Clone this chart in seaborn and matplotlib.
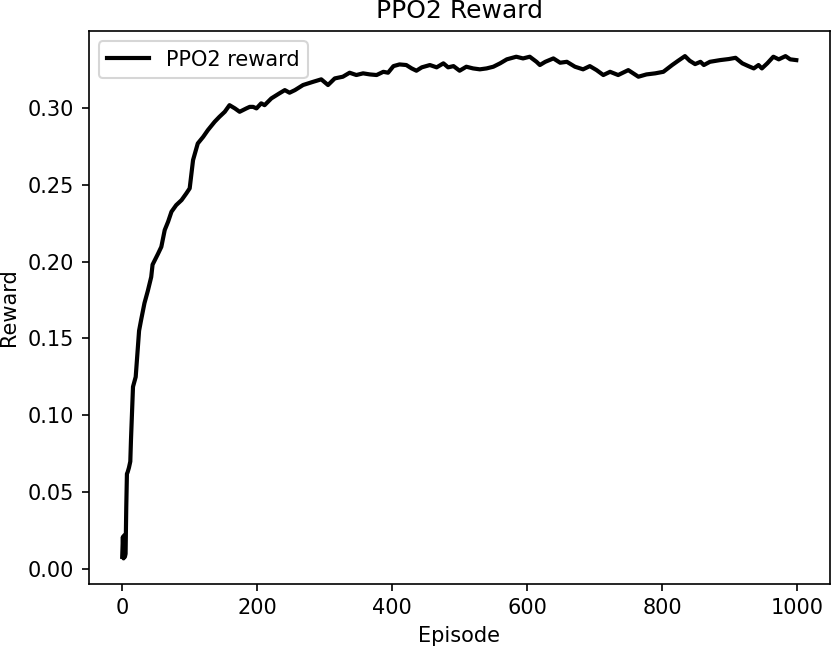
import matplotlib
matplotlib.use('Agg')
import matplotlib.pyplot as plt
import pandas as pd
import seaborn as sns


# values (episode, smoothed reward)
episodes = [
    0, 1, 2, 3, 4, 5, 6, 7, 8, 10, 12, 13, 16, 20, 25, 28, 33, 38, 43, 45,
    53, 58, 63, 68, 73, 80, 88, 95, 100, 105, 112, 120, 127, 137, 144, 152,
    159, 167, 174, 184, 189, 194, 199, 206, 211, 221, 233, 241, 248, 256,
    268, 283, 295, 305, 315, 327, 337, 347, 357, 367, 377, 387, 394, 402,
    411, 421, 429, 436, 444, 456, 466, 476, 483, 491, 500, 510, 520, 530,
    540, 550, 560, 570, 584, 594, 604, 614, 619, 627, 639, 649, 659, 671,
    683, 693, 703, 713, 723, 735, 750, 765, 777, 790, 802, 815, 824, 834,
    841, 849, 857, 862, 871, 886, 899, 909, 919, 928, 936, 943, 948, 956,
    965, 973, 983, 990, 999,
]
rewards = [
    0.008, 0.021, 0.007, 0.022, 0.008, 0.010, 0.040, 0.062, 0.063, 0.066,
    0.070, 0.084, 0.1186, 0.125, 0.155, 0.162, 0.173, 0.181, 0.190, 0.198,
    0.205, 0.2096, 0.2205, 0.2259, 0.2324, 0.2367, 0.240, 0.2443, 0.2476,
    0.266, 0.2768, 0.2811, 0.2855, 0.2909, 0.2941, 0.2974, 0.3017, 0.2996,
    0.2974, 0.2996, 0.3006, 0.3006, 0.2996, 0.3029, 0.3017, 0.3061, 0.3094,
    0.3115, 0.3098, 0.3115, 0.3148, 0.3169, 0.3185, 0.3148, 0.3191, 0.3202,
    0.3228, 0.3213, 0.3224, 0.3217, 0.3213, 0.3234, 0.3228, 0.3271, 0.3282,
    0.3278, 0.3256, 0.3241, 0.3263, 0.3278, 0.3263, 0.3289, 0.3263, 0.3271,
    0.3241, 0.3267, 0.3256, 0.3250, 0.3256, 0.3267, 0.3289, 0.3315, 0.3332,
    0.3321, 0.3332, 0.3299, 0.3278, 0.3299, 0.3321, 0.3293, 0.3299, 0.3267,
    0.3250, 0.3271, 0.3245, 0.3213, 0.3234, 0.3213, 0.3245, 0.3202, 0.3217,
    0.3224, 0.3234, 0.3278, 0.3306, 0.3336, 0.3306, 0.3284, 0.3299, 0.3278,
    0.3299, 0.3310, 0.3317, 0.3325, 0.3289, 0.3271, 0.3256, 0.3278, 0.3256,
    0.3289, 0.3332, 0.3315, 0.3336, 0.3315, 0.3310,
]


def main():
    df = pd.DataFrame({'Episode': episodes, 'Reward': rewards})

    fig = plt.figure(figsize=(831 / 150, 647 / 150), dpi=150)
    ax = fig.add_axes([88.5 / 831, 63.5 / 647, 741.5 / 831, 552.5 / 647])
    sns.lineplot(data=df, x='Episode', y='Reward', color='black',
                 linewidth=2, label='PPO2 reward', ax=ax)
    ax.set_title('PPO2 Reward')
    ax.set_xlabel('Episode')
    ax.set_ylabel('Reward')
    ax.legend(loc='upper left')
    fig.savefig('out.png', dpi=150)
    plt.close(fig)


if __name__ == '__main__':
    main()
